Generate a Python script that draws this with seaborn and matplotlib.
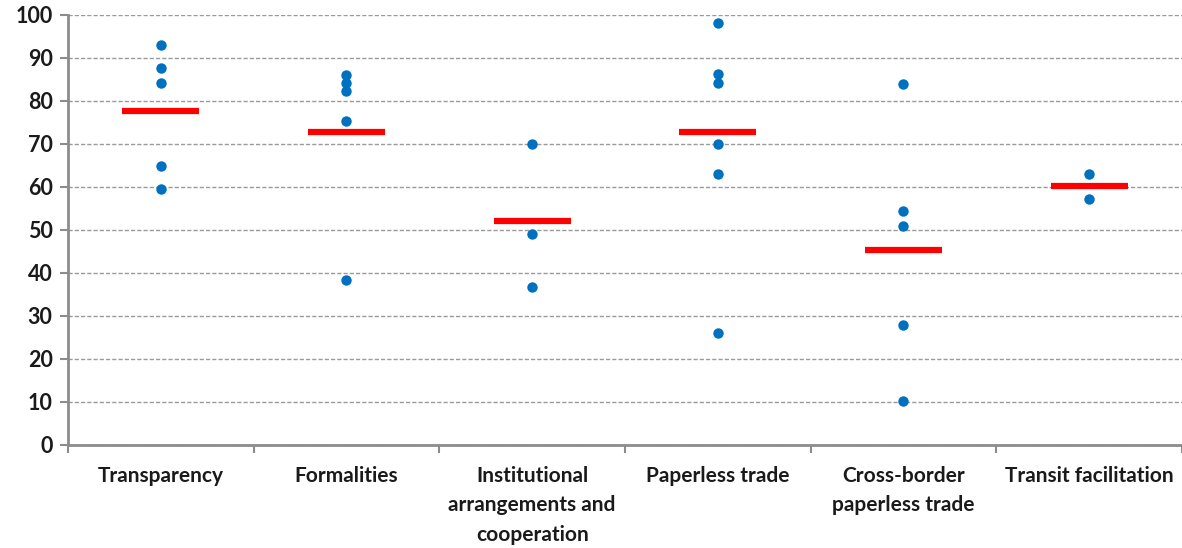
import numpy as np
import pandas as pd
import matplotlib
matplotlib.use("Agg")
import matplotlib.pyplot as plt
import seaborn as sns

CATEGORIES = [
    "Transparency",
    "Formalities",
    "Institutional\narrangements and\ncooperation",
    "Paperless trade",
    "Cross-border\npaperless trade",
    "Transit facilitation",
]

# country scores per group
transparency = [93.0, 87.7, 84.2, 64.9, 59.5]
formalities = [85.9, 84.1, 82.3, 75.3, 38.4]
institutional = [70.0, 49.0, 36.7]
paperless = [98.1, 86.2, 84.1, 70.0, 63.0, 26.1]
cross_border = [84.0, 54.3, 50.8, 27.9, 10.3]
transit = [62.9, 57.2]

# group averages (red bars)
averages = [77.6, 72.8, 52.1, 72.7, 45.3, 60.2]

groups = [transparency, formalities, institutional, paperless, cross_border, transit]
df = pd.DataFrame(
    [(cat, v) for cat, vals in zip(CATEGORIES, groups) for v in vals],
    columns=["group", "score"],
)

sns.set_theme(style="white")
plt.rcParams["font.family"] = ["Lato", "DejaVu Sans"]

fig = plt.figure(figsize=(11.82, 5.48), dpi=100)
ax = fig.add_axes([0.0575, 0.188, 0.9425, 0.785])

sns.stripplot(data=df, x="group", y="score", order=CATEGORIES, jitter=False,
              color="#0070C0", size=7.5, linewidth=0, ax=ax, zorder=3)

xs = np.arange(len(CATEGORIES))
ax.hlines(averages, xs - 0.207, xs + 0.207, colors="#FF0000", linewidth=4.5, zorder=4)

ax.set_ylim(0, 100)
ax.set_xlim(-0.5, len(CATEGORIES) - 0.5)
ax.set_yticks(range(0, 101, 10))
ax.yaxis.grid(True, linestyle=(0, (3, 1.5)), color="#9a9a9a", linewidth=1)
ax.set_axisbelow(True)

# ticks on category boundaries, labels centred
ax.set_xticks(np.arange(-0.5, len(CATEGORIES), 1))
ax.set_xticklabels([])
ax.set_xticks(xs, minor=True)
ax.set_xticklabels(CATEGORIES, minor=True, fontsize=15, fontweight="bold",
                   color="#1a1a1a", va="top", linespacing=1.6)
ax.tick_params(axis="x", which="major", length=6, width=1.5, color="#8c8c8c",
               direction="out", bottom=True)
ax.tick_params(axis="x", which="minor", length=0, pad=15)
ax.tick_params(axis="y", length=6, width=1.5, color="#8c8c8c", direction="out",
               left=True, labelsize=15.5, labelcolor="#1a1a1a", pad=5)
for lab in ax.get_yticklabels():
    lab.set_fontweight("bold")

ax.set_xlabel("")
ax.set_ylabel("")
for side in ["top", "right"]:
    ax.spines[side].set_visible(False)
for side in ["left", "bottom"]:
    ax.spines[side].set_color("#8c8c8c")
    ax.spines[side].set_linewidth(2)

fig.savefig("out.png", dpi=100)
